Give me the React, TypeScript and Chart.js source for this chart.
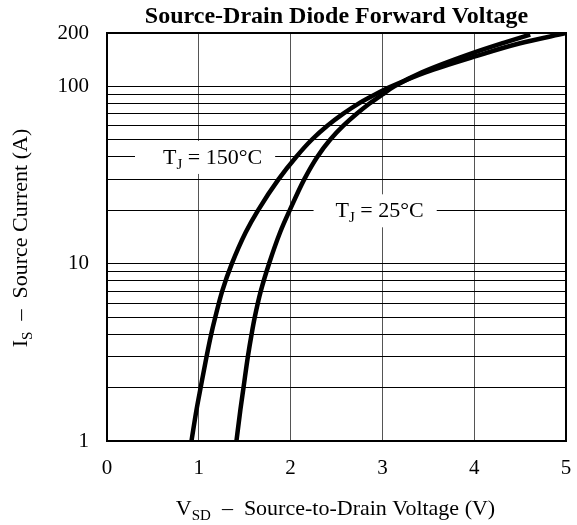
import React, { useEffect, useRef } from "react";
import { Chart, registerables } from "chart.js";

Chart.register(...registerables);

// ---- data ----
const X_TICKS = [0, 1, 2, 3, 4, 5];
const Y_GRID = [1, 2, 3, 4, 5, 6, 7, 8, 9, 10, 20, 30, 40, 50, 60, 70, 80, 90, 100, 200];
const Y_LABELED = [1, 10, 100, 200];

// TJ = 150 °C : source-drain voltage (V) vs source current (A)
const V_150 = [0.92, 0.975, 1.02, 1.085, 1.135, 1.18, 1.255, 1.36, 1.51, 1.645, 1.87, 2.06, 2.23, 2.4, 2.57, 2.74, 2.92, 3.1, 3.47, 4.0, 4.5, 5.0];
const I_150 = [1, 1.5, 2, 3, 4, 5, 7, 10, 15, 20, 30, 40, 50, 60, 70, 80, 90, 100, 120, 147, 175, 200];

// TJ = 25 °C
const V_25 = [1.41, 1.453, 1.487, 1.535, 1.575, 1.61, 1.675, 1.765, 1.885, 1.99, 2.15, 2.29, 2.43, 2.575, 2.72, 2.86, 3.0, 3.13, 3.43, 3.98, 4.32, 4.61];
const I_25 = [1, 1.5, 2, 3, 4, 5, 7, 10, 15, 20, 30, 40, 50, 60, 70, 80, 90, 100, 120, 154, 176, 196];

const TITLE = "Source-Drain Diode Forward Voltage";
const X_TITLE: [string, boolean][] = [["V", false], ["SD", true], ["  –  Source-to-Drain Voltage (V)", false]];
const Y_TITLE: [string, boolean][] = [["I", false], ["S", true], ["  –  Source Current (A)", false]];

const LABEL_150: [string, boolean][] = [["T", false], ["J", true], [" = 150°C", false]];
const LABEL_25: [string, boolean][] = [["T", false], ["J", true], [" = 25°C", false]];
const LABEL_ANCHORS = [
  { parts: LABEL_150, x: 1.15, y: 40, padL: 28, padR: 13 },
  { parts: LABEL_25, x: 2.97, y: 20, padL: 22, padR: 13 },
];

const SERIF = "'Liberation Serif', 'Times New Roman', serif";
const MAIN_FONT = `22px ${SERIF}`;
const SUB_FONT = `15px ${SERIF}`;

function measureParts(ctx: CanvasRenderingContext2D, parts: [string, boolean][]) {
  let total = 0;
  for (const [t, sub] of parts) {
    ctx.font = sub ? SUB_FONT : MAIN_FONT;
    total += ctx.measureText(t).width;
  }
  return total;
}

function drawParts(ctx: CanvasRenderingContext2D, parts: [string, boolean][], cx: number, baseline: number) {
  const total = measureParts(ctx, parts);
  let x = cx - total / 2;
  ctx.textAlign = "left";
  ctx.textBaseline = "alphabetic";
  for (const [t, sub] of parts) {
    ctx.font = sub ? SUB_FONT : MAIN_FONT;
    ctx.fillText(t, x, sub ? baseline + 5 : baseline);
    x += ctx.measureText(t).width;
  }
  return total;
}

const decorPlugin = {
  id: "decor",
  beforeDatasetsDraw(chart: any) {
    const { ctx, chartArea, scales } = chart;
    ctx.save();
    for (const a of LABEL_ANCHORS) {
      const px = scales.x.getPixelForValue(a.x);
      const py = scales.y.getPixelForValue(a.y);
      const w = measureParts(ctx, a.parts);
      ctx.fillStyle = "#ffffff";
      ctx.fillRect(px - w / 2 - a.padL, py - 16, w + a.padL + a.padR, 33);
      ctx.fillStyle = "#000000";
      drawParts(ctx, a.parts, px, py + 7);
    }
    ctx.strokeStyle = "#000";
    ctx.lineWidth = 2;
    ctx.strokeRect(chartArea.left, chartArea.top, chartArea.right - chartArea.left, chartArea.bottom - chartArea.top);
    ctx.restore();
  },
  afterDraw(chart: any) {
    const { ctx, chartArea } = chart;
    ctx.save();
    ctx.fillStyle = "#000";
    ctx.font = `bold 24px ${SERIF}`;
    ctx.textAlign = "center";
    ctx.textBaseline = "alphabetic";
    ctx.fillText(TITLE, (chartArea.left + chartArea.right) / 2, 23);
    drawParts(ctx, X_TITLE, (chartArea.left + chartArea.right) / 2 - 1, 515);
    ctx.translate(27, (chartArea.top + chartArea.bottom) / 2 + 1);
    ctx.rotate(-Math.PI / 2);
    drawParts(ctx, Y_TITLE, 0, 0);
    ctx.restore();
  },
};

export default function App() {
  const ref = useRef<HTMLCanvasElement | null>(null);

  useEffect(() => {
    document.body.style.margin = "0";
    const canvas = ref.current;
    if (!canvas) return;
    const chart = new Chart(canvas, {
      type: "line",
      data: {
        datasets: [
          {
            label: "TJ = 150°C",
            data: V_150.map((v, i) => ({ x: v, y: I_150[i] })),
            borderColor: "#000",
            borderWidth: 4.5,
            pointRadius: 0,
            fill: false,
            cubicInterpolationMode: "monotone",
          },
          {
            label: "TJ = 25°C",
            data: V_25.map((v, i) => ({ x: v, y: I_25[i] })),
            borderColor: "#000",
            borderWidth: 4.5,
            pointRadius: 0,
            fill: false,
            cubicInterpolationMode: "monotone",
          },
        ],
      },
      options: {
        indexAxis: "y",
        responsive: false,
        animation: false,
        devicePixelRatio: 1,
        layout: { padding: { left: 0, top: 33, right: 11, bottom: 0 } },
        plugins: {
          legend: { display: false },
          tooltip: { enabled: false },
          title: { display: false },
        },
        scales: {
          x: {
            type: "linear",
            position: "bottom",
            min: 0,
            max: 5,
            afterBuildTicks: (scale: any) => {
              scale.ticks = X_TICKS.map((v) => ({ value: v }));
            },
            afterFit: (scale: any) => {
              scale.height = 84;
              scale.paddingLeft = 0;
              scale.paddingRight = 0;
            },
            ticks: {
              autoSkip: false,
              maxRotation: 0,
              padding: 15,
              color: "#000",
              font: { family: SERIF, size: 21 },
              callback: (v: any) => String(v),
            },
            grid: { color: "#555", lineWidth: 1, drawTicks: false },
            border: { display: false },
          },
          y: {
            type: "logarithmic",
            position: "left",
            min: 1,
            max: 200,
            afterBuildTicks: (scale: any) => {
              scale.ticks = Y_GRID.map((v) => ({ value: v }));
            },
            afterFit: (scale: any) => {
              scale.width = 107;
              scale.paddingTop = 0;
              scale.paddingBottom = 0;
            },
            ticks: {
              autoSkip: false,
              padding: 18,
              color: "#000",
              font: { family: SERIF, size: 21 },
              callback: (v: any) => (Y_LABELED.includes(Number(v)) ? String(v) : ""),
            },
            grid: { color: "#000", lineWidth: 1, drawTicks: false },
            border: { display: false },
          },
        },
      },
      plugins: [decorPlugin],
    } as any);
    return () => chart.destroy();
  }, []);

  return (
    <div style={{ width: 577, height: 525, background: "#fff" }}>
      <canvas ref={ref} width={577} height={525} style={{ display: "block" }} />
    </div>
  );
}
